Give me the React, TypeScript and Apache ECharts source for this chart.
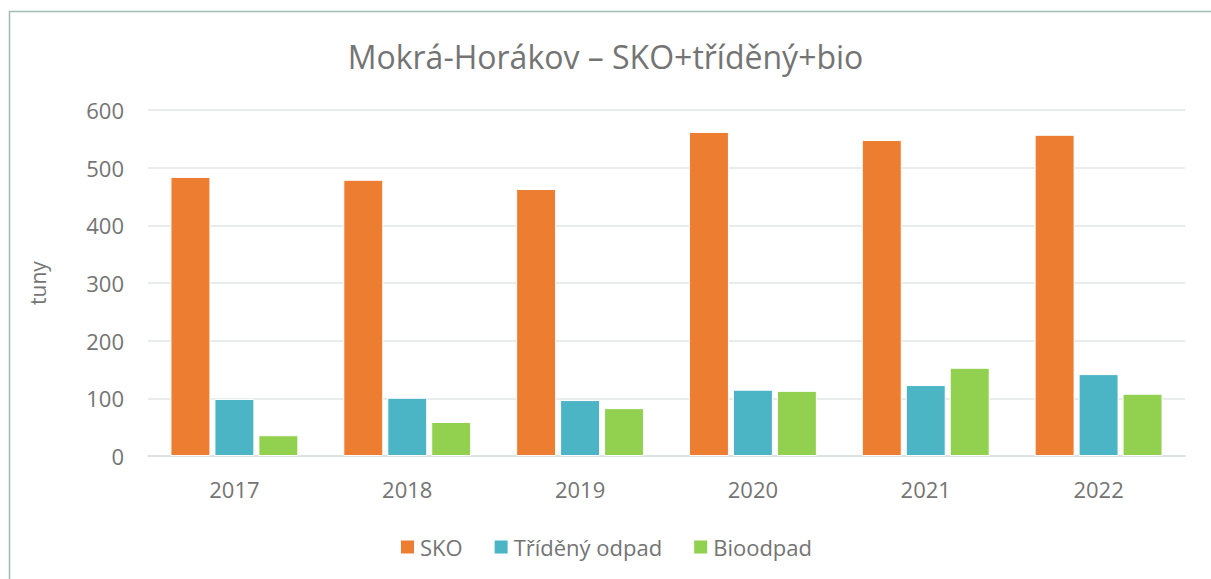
import React, { useEffect, useRef } from "react";
import * as echarts from "echarts";

const categories = ["2017", "2018", "2019", "2020", "2021", "2022"];
const skoValues = [484, 479, 463, 562, 548, 557];
const triValues = [99, 101, 97, 115, 123, 142];
const bioValues = [36, 59, 83, 113, 153, 108];
const seriesNames = ["SKO", "Tříděný odpad", "Bioodpad"];
const titleText = "Mokrá-Horákov – SKO+tříděný+bio";
const yAxisName = "tuny";

const FONT = "'Open Sans', 'Noto Sans', sans-serif";
const TEXT = "#747474";

export default function App() {
  const ref = useRef<HTMLDivElement>(null);
  useEffect(() => {
    if (!ref.current) return;
    const chart = echarts.init(ref.current, undefined, { renderer: "svg" });
    const barStyle = (c: string) => ({ color: c, borderColor: "#ffffff", borderWidth: 1 });
    chart.setOption({
      animation: false,
      backgroundColor: "#ffffff",
      textStyle: { fontFamily: FONT },
      graphic: [
        {
          type: "rect",
          shape: { x: 9.5, y: 11.5, width: 1220, height: 600 },
          style: { fill: "none", stroke: "#a3bcb0", lineWidth: 1.5 },
          silent: true,
        },
      ],
      title: {
        text: titleText,
        left: "center",
        top: 35,
        textStyle: { fontFamily: FONT, fontSize: 32, fontWeight: "normal", color: TEXT },
      },
      legend: {
        data: seriesNames,
        bottom: 16,
        left: "center",
        itemWidth: 15,
        itemHeight: 15,
        itemGap: 30,
        icon: "rect",
        textStyle: { fontFamily: FONT, fontSize: 22, color: TEXT },
      },
      grid: { left: 148, right: 26, top: 110, bottom: 123, containLabel: false },
      xAxis: {
        type: "category",
        data: categories,
        axisLine: { lineStyle: { color: "#d9dfdd", width: 1.5 } },
        axisTick: { show: false },
        axisLabel: { fontFamily: FONT, fontSize: 22, color: TEXT, margin: 22 },
      },
      yAxis: {
        type: "value",
        min: 0,
        max: 600,
        interval: 100,
        name: yAxisName,
        nameLocation: "middle",
        nameGap: 100,
        nameRotate: 90,
        nameTextStyle: { fontFamily: FONT, fontSize: 21, color: TEXT },
        axisLine: { show: false },
        axisTick: { show: false },
        axisLabel: { fontFamily: FONT, fontSize: 22, color: TEXT, margin: 24 },
        splitLine: { lineStyle: { color: "#e1e7e5", width: 1.5 } },
      },
      series: [
        { name: seriesNames[0], type: "bar", data: skoValues, itemStyle: barStyle("#ED7D31"), barGap: "10%", barCategoryGap: "26%" },
        { name: seriesNames[1], type: "bar", data: triValues, itemStyle: barStyle("#4BB5C6"), barGap: "10%", barCategoryGap: "26%" },
        { name: seriesNames[2], type: "bar", data: bioValues, itemStyle: barStyle("#92D050"), barGap: "10%", barCategoryGap: "26%" },
      ],
    });
    return () => chart.dispose();
  }, []);
  return <div ref={ref} style={{ position: "fixed", left: 0, top: 0, width: 1211, height: 579 }} />;
}
